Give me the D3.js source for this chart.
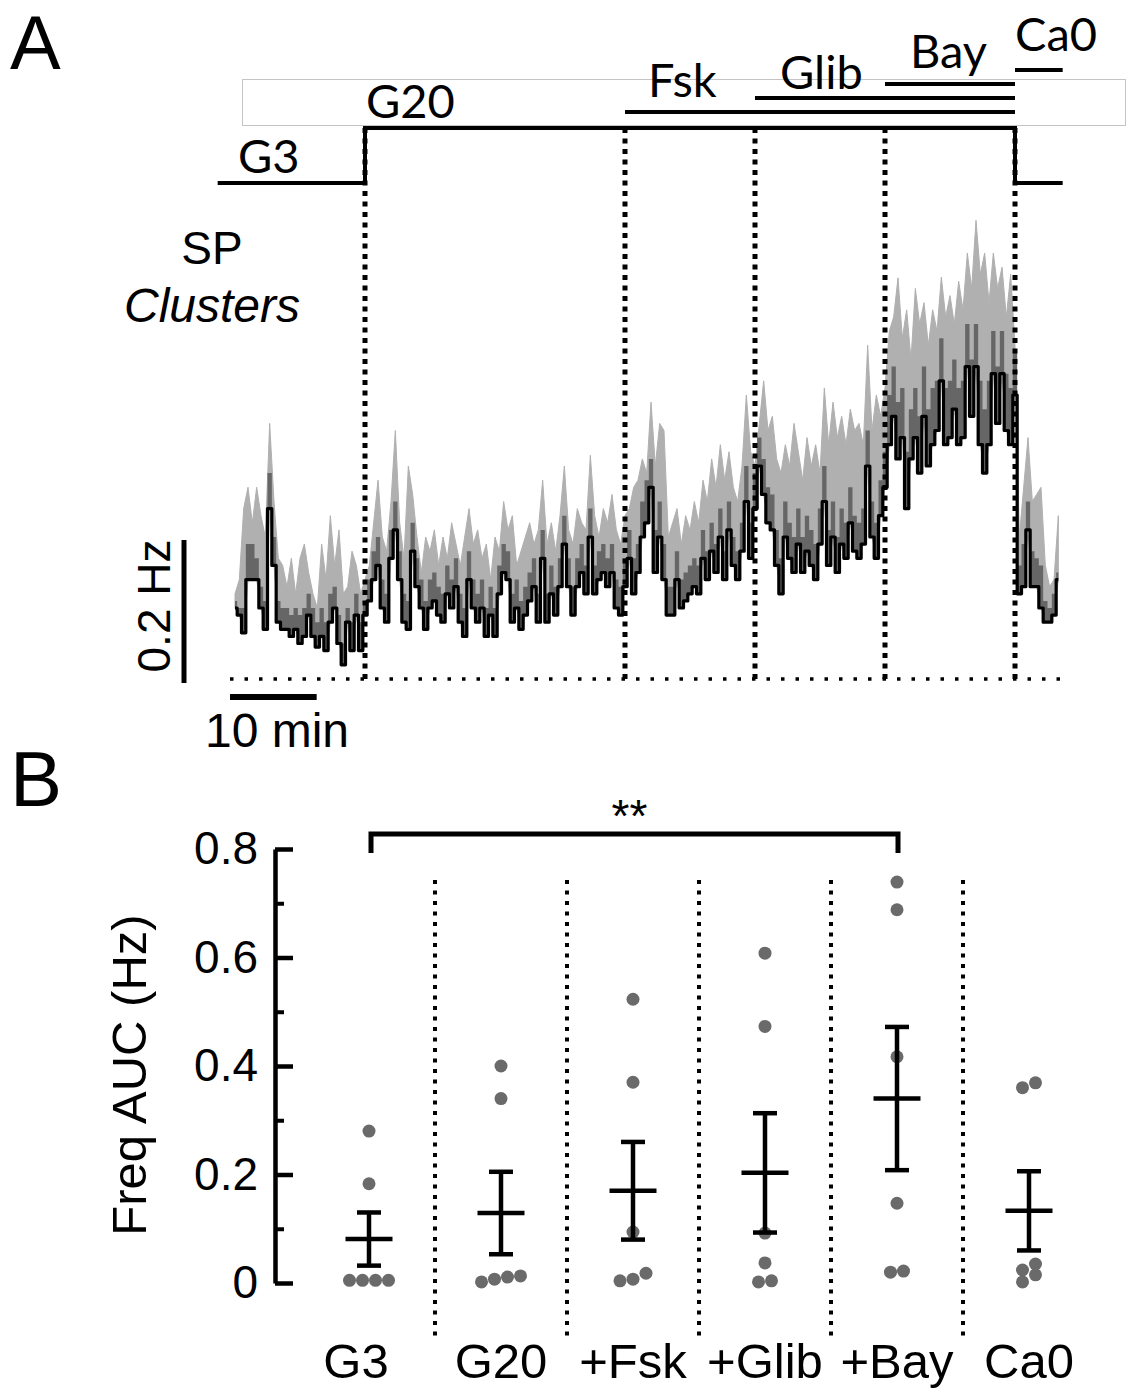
<!DOCTYPE html>
<html>
<head>
<meta charset="utf-8">
<script src="https://cdn.jsdelivr.net/npm/d3@7"></script>
<style>
body { margin: 0; background: #fff; }
svg { display: block; background: #fff; }
text { font-family: "Liberation Sans", Arial, sans-serif; fill: #000; }
.proto { font-family: Lato, "Open Sans", sans-serif; font-size: 47px; }
</style>
</head>
<body>
<svg id="fig" width="1127" height="1392"></svg>
<script>

// ---- panel A : protocol ----
var protocolLabels = ["G3", "G20", "Fsk", "Glib", "Bay", "Ca0"];
var protocolStart = [-2, 15, 45, 60, 75, 90];
var protocolEnd = [15, 90, 90, 90, 90, 95.5];
var stageBoundaries = [15, 45, 60, 75, 90];

// ---- panel A : SP cluster frequency trace (Hz), one sample every 0.5 min ----
var sampleStep = 0.5;
var meanTrace = [
	0.10,0.09,0.065,0.14,0.14,0.14,0.10,0.07,0.24,0.16,
	0.08,0.07,0.07,0.06,0.07,0.05,0.06,0.09,0.06,0.045,
	0.06,0.04,0.08,0.10,0.05,0.02,0.08,0.04,0.09,0.04,
	0.09,
	0.11,0.14,0.16,0.10,0.08,0.17,0.21,0.14,0.08,0.07,
	0.18,0.13,0.10,0.07,0.10,0.11,0.09,0.08,0.12,0.10,
	0.13,0.08,0.06,0.14,0.10,0.08,0.10,0.06,0.09,0.06,
	0.12,0.15,0.14,0.08,0.10,0.07,0.09,0.11,0.13,0.08,
	0.17,0.08,0.12,0.09,0.13,0.19,0.13,0.09,0.13,0.15,
	0.12,0.20,0.12,0.14,0.15,0.13,0.15,0.10,0.09,0.13,
	0.17,0.12,0.15,0.20,0.22,0.27,0.15,0.20,0.14,0.09,
	0.09,0.14,0.10,0.11,0.12,0.13,0.12,0.17,0.14,0.18,
	0.15,0.20,0.14,0.21,0.16,0.14,0.18,0.25,0.17,0.24,
	0.30,0.26,0.22,0.21,0.16,0.12,0.20,0.17,0.15,0.19,
	0.15,0.18,0.16,0.14,0.19,0.25,0.16,0.20,0.15,0.19,
	0.17,0.22,0.18,0.17,0.19,0.30,0.20,0.17,0.23,0.27,
	0.33,0.37,0.31,0.34,0.24,0.31,0.34,0.29,0.37,0.30,
	0.33,0.35,0.42,0.33,0.34,0.38,0.33,0.34,0.44,0.37,
	0.44,0.33,0.29,0.33,0.43,0.36,0.43,0.35,0.33,0.40,
	0.12,0.13,0.21,0.13,0.13,0.10,0.08,0.08,0.09,0.14
];
var semTrace = [
	0.11,0.10,0.10,0.19,0.19,0.17,0.13,0.11,0.29,0.20,
	0.11,0.10,0.10,0.09,0.10,0.09,0.10,0.12,0.10,0.08,
	0.10,0.08,0.12,0.13,0.09,0.05,0.10,0.08,0.12,0.08,
	0.11,
	0.14,0.18,0.20,0.14,0.12,0.21,0.25,0.18,0.12,0.11,
	0.22,0.17,0.14,0.11,0.14,0.15,0.13,0.12,0.16,0.14,
	0.17,0.12,0.10,0.18,0.14,0.12,0.14,0.10,0.13,0.10,
	0.16,0.19,0.18,0.12,0.14,0.11,0.13,0.15,0.17,0.12,
	0.21,0.12,0.16,0.13,0.17,0.23,0.17,0.13,0.17,0.19,
	0.16,0.24,0.16,0.18,0.19,0.17,0.19,0.14,0.13,0.17,
	0.21,0.17,0.19,0.25,0.28,0.31,0.21,0.25,0.19,0.13,
	0.13,0.18,0.14,0.15,0.16,0.17,0.16,0.21,0.18,0.22,
	0.19,0.24,0.18,0.25,0.20,0.18,0.22,0.30,0.22,0.29,
	0.34,0.31,0.27,0.26,0.21,0.17,0.25,0.22,0.20,0.24,
	0.20,0.23,0.21,0.19,0.24,0.30,0.21,0.25,0.20,0.24,
	0.22,0.27,0.23,0.22,0.24,0.35,0.25,0.22,0.28,0.32,
	0.40,0.44,0.39,0.41,0.32,0.38,0.41,0.37,0.44,0.38,
	0.41,0.42,0.48,0.41,0.42,0.45,0.41,0.42,0.50,0.45,
	0.50,0.42,0.38,0.42,0.49,0.44,0.49,0.43,0.41,0.46,
	0.16,0.19,0.25,0.18,0.17,0.16,0.11,0.10,0.12,0.15
];
var upperTrace = [
	0.12,0.14,0.24,0.27,0.22,0.27,0.23,0.20,0.36,0.25,
	0.17,0.16,0.13,0.17,0.12,0.17,0.19,0.15,0.12,0.10,
	0.19,0.14,0.23,0.16,0.21,0.12,0.13,0.18,0.16,0.12,
	0.14,
	0.16,0.22,0.28,0.20,0.18,0.25,0.35,0.22,0.17,0.30,
	0.26,0.20,0.15,0.20,0.18,0.21,0.16,0.20,0.17,0.22,
	0.19,0.16,0.20,0.24,0.19,0.21,0.17,0.19,0.14,0.20,
	0.18,0.25,0.21,0.23,0.16,0.18,0.20,0.22,0.19,0.21,
	0.28,0.19,0.22,0.18,0.23,0.30,0.21,0.19,0.24,0.22,
	0.21,0.315,0.23,0.20,0.24,0.22,0.26,0.21,0.19,0.23,
	0.24,0.27,0.28,0.31,0.29,0.39,0.30,0.36,0.35,0.20,
	0.22,0.24,0.19,0.23,0.21,0.25,0.22,0.28,0.25,0.31,
	0.27,0.33,0.28,0.32,0.27,0.25,0.30,0.40,0.32,0.30,
	0.36,0.42,0.35,0.37,0.31,0.29,0.33,0.30,0.36,0.32,
	0.28,0.34,0.30,0.33,0.29,0.41,0.33,0.39,0.34,0.37,
	0.33,0.38,0.35,0.36,0.33,0.47,0.35,0.40,0.37,0.41,
	0.49,0.51,0.565,0.48,0.52,0.45,0.55,0.50,0.53,0.47,
	0.52,0.49,0.566,0.51,0.54,0.50,0.56,0.52,0.60,0.55,
	0.646,0.57,0.60,0.53,0.60,0.55,0.58,0.51,0.57,0.47,
	0.20,0.27,0.34,0.25,0.26,0.27,0.16,0.13,0.14,0.23
];

// ---- panel B : Freq AUC ----
var categories = ["G3", "G20", "+Fsk", "+Glib", "+Bay", "Ca0"];
var aucPoints = [
	[0.28, 0.183, 0.005, 0.005, 0.005, 0.005],
	[0.40, 0.34, 0.011, 0.002, 0.007, 0.013],
	[0.523, 0.37, 0.094, 0.018, 0.004, 0.007],
	[0.608, 0.473, 0.092, 0.037, 0.002, 0.004],
	[0.739, 0.688, 0.417, 0.147, 0.02, 0.022],
	[0.36, 0.369, 0.024, 0.035, 0.015, 0.002]
];
var aucMean = [0.081, 0.129, 0.17, 0.203, 0.34, 0.133];
var aucSem = [0.049, 0.076, 0.09, 0.11, 0.132, 0.073];
var yTicks = [0, 0.2, 0.4, 0.6, 0.8];
var yMinorTicks = [0.1, 0.3, 0.5, 0.7];
var sigPair = ["G3", "+Bay"];
var sigLabel = "**";

var svg = d3.select("#fig");

var tx = d3.scaleLinear().domain([0, 90]).range([235, 1015]);
var ty = d3.scaleLinear().domain([0, 0.2]).range([679, 537]);

function drawProtocol() {

	var g = svg.append("g");
	var levelLow = 183, levelHigh = 128;
	var barY = { "Fsk": 112, "Glib": 98, "Bay": 84, "Ca0": 70 };

	// leftover frame from the original figure
	g.append("rect")
		.attr("x", 242.5).attr("y", 79.5)
		.attr("width", 883).attr("height", 46)
		.attr("fill", "none")
		.attr("stroke", "#c4c4c4")
		.attr("stroke-width", 1);

	// glucose step
	var step = [
		[tx(protocolStart[0]), levelLow], [tx(protocolEnd[0]), levelLow],
		[tx(protocolStart[1]), levelHigh], [tx(protocolEnd[1]), levelHigh],
		[tx(protocolEnd[1]), levelLow], [tx(protocolEnd[5]), levelLow]
	];
	g.append("path")
		.attr("d", d3.line()(step))
		.attr("fill", "none")
		.attr("stroke", "#000")
		.attr("stroke-width", 4);

	// drug bars
	for (var i = 2; i < protocolLabels.length; i++) {
		g.append("line")
			.attr("x1", tx(protocolStart[i])).attr("x2", tx(protocolEnd[i]))
			.attr("y1", barY[protocolLabels[i]]).attr("y2", barY[protocolLabels[i]])
			.attr("stroke", "#000")
			.attr("stroke-width", 4);
	}

	var labelX = [238, 366, 648, 780, 910, 1015];
	var labelY = [173, 118, 97, 89, 68, 51];
	g.selectAll("text.proto")
		.data(protocolLabels)
		.enter().append("text")
		.attr("class", "proto")
		.attr("x", function(d, i) { return labelX[i]; })
		.attr("y", function(d, i) { return labelY[i]; })
		.text(function(d) { return d; });
}

function drawTrace() {

	var g = svg.append("g");
	var idx = d3.range(meanTrace.length);
	var t = function(i) { return tx(i * sampleStep); };

	g.append("path")
		.attr("d", d3.area()
			.x(t)
			.y0(function(i) { return ty(meanTrace[i]); })
			.y1(function(i) { return ty(upperTrace[i]); })(idx))
		.attr("fill", "#b0b0b0")
		.attr("stroke", "#b0b0b0")
		.attr("stroke-width", 1);

	g.append("path")
		.attr("d", d3.area()
			.curve(d3.curveStep)
			.x(t)
			.y0(function(i) { return ty(meanTrace[i]); })
			.y1(function(i) { return ty(semTrace[i]); })(idx))
		.attr("fill", "#666");

	g.append("path")
		.attr("d", d3.line()
			.curve(d3.curveStep)
			.x(t)
			.y(function(i) { return ty(meanTrace[i]); })(idx))
		.attr("fill", "none")
		.attr("stroke", "#000")
		.attr("stroke-width", 3.2)
		.attr("stroke-linejoin", "round");

	// stage boundaries
	g.selectAll("line.stage")
		.data(stageBoundaries)
		.enter().append("line")
		.attr("x1", function(d) { return tx(d); })
		.attr("x2", function(d) { return tx(d); })
		.attr("y1", 128)
		.attr("y2", ty(0))
		.attr("stroke", "#000")
		.attr("stroke-width", 5)
		.attr("stroke-dasharray", "5,5.5");

	// zero line
	g.append("line")
		.attr("x1", 230).attr("x2", 1062)
		.attr("y1", ty(0)).attr("y2", ty(0))
		.attr("stroke", "#000")
		.attr("stroke-width", 3.5)
		.attr("stroke-dasharray", "3.5,11");

	// scale bars
	g.append("line")
		.attr("x1", 184).attr("x2", 184)
		.attr("y1", ty(0) + 4).attr("y2", ty(0.2) + 3)
		.attr("stroke", "#000").attr("stroke-width", 5);
	g.append("text")
		.attr("transform", "translate(170,606) rotate(-90)")
		.attr("text-anchor", "middle")
		.attr("font-size", 46)
		.text("0.2 Hz");

	g.append("line")
		.attr("x1", 230).attr("x2", 230 + tx(10) - tx(0))
		.attr("y1", 697).attr("y2", 697)
		.attr("stroke", "#000").attr("stroke-width", 6);
	g.append("text")
		.attr("x", 277).attr("y", 747)
		.attr("text-anchor", "middle")
		.attr("font-size", 48)
		.text("10 min");

	g.append("text")
		.attr("x", 212).attr("y", 264)
		.attr("text-anchor", "middle")
		.attr("font-size", 46)
		.text("SP");
	g.append("text")
		.attr("x", 212).attr("y", 322)
		.attr("text-anchor", "middle")
		.attr("font-size", 48)
		.attr("font-style", "italic")
		.text("Clusters");
}

function drawPanelB() {

	var g = svg.append("g");
	var bx = d3.scalePoint().domain(categories).range([369, 1029]);
	var by = d3.scaleLinear().domain([0, 0.8]).range([1283, 849]);

	var yAxis = d3.axisLeft(by)
		.tickValues(yTicks)
		.tickSize(-18)
		.tickSizeOuter(0)
		.tickPadding(17)
		.tickFormat(function(d) { return d === 0 ? "0" : d3.format(".1f")(d); });

	var ax = g.append("g")
		.attr("transform", "translate(275,0)")
		.call(yAxis);
	ax.select(".domain").attr("stroke-width", 4.5);
	ax.selectAll(".tick line").attr("stroke-width", 4.5);
	ax.selectAll(".tick text")
		.attr("font-size", 46)
		.attr("font-family", "Liberation Sans, Arial, sans-serif")
		.attr("fill", "#000");

	var minor = g.append("g")
		.attr("transform", "translate(275,0)")
		.call(d3.axisLeft(by).tickValues(yMinorTicks).tickSize(-9).tickFormat(""));
	minor.select(".domain").remove();
	minor.selectAll(".tick line").attr("stroke-width", 4);

	g.append("text")
		.attr("transform", "translate(146,1075) rotate(-90)")
		.attr("text-anchor", "middle")
		.attr("font-size", 49)
		.text("Freq AUC (Hz)");

	// dotted separators
	var half = bx.step() / 2;
	g.selectAll("line.sep")
		.data(categories.slice(0, -1))
		.enter().append("line")
		.attr("x1", function(d) { return bx(d) + half; })
		.attr("x2", function(d) { return bx(d) + half; })
		.attr("y1", 880).attr("y2", 1338)
		.attr("stroke", "#000")
		.attr("stroke-width", 4)
		.attr("stroke-dasharray", "4,6.5");

	// points: near-equal values spread side by side
	var spacing = 13;
	categories.forEach(function(c, ci) {
		var vals = aucPoints[ci].slice().sort(d3.ascending);
		var rows = [];
		vals.forEach(function(v) {
			var last = rows[rows.length - 1];
			if (last && v - last[0] < 0.02) last.push(v);
			else rows.push([v]);
		});
		rows.forEach(function(row) {
			row.forEach(function(v, k) {
				g.append("circle")
					.attr("cx", bx(c) + (k - (row.length - 1) / 2) * spacing)
					.attr("cy", by(v))
					.attr("r", 6.5)
					.attr("fill", "#6a6a6a");
			});
		});
	});

	// mean +/- sem
	categories.forEach(function(c, ci) {
		var x = bx(c), m = aucMean[ci], s = aucSem[ci];
		var eb = g.append("g").attr("stroke", "#000").attr("stroke-width", 4.5);
		eb.append("line").attr("x1", x).attr("x2", x).attr("y1", by(m - s)).attr("y2", by(m + s));
		eb.append("line").attr("x1", x - 12).attr("x2", x + 12).attr("y1", by(m + s)).attr("y2", by(m + s));
		eb.append("line").attr("x1", x - 12).attr("x2", x + 12).attr("y1", by(m - s)).attr("y2", by(m - s));
		eb.append("line").attr("x1", x - 23.5).attr("x2", x + 23.5).attr("y1", by(m)).attr("y2", by(m));
	});

	// significance bracket
	var x0 = bx(sigPair[0]) + 2, x1 = bx(sigPair[1]) + 1;
	g.append("path")
		.attr("d", "M" + x0 + ",853V834H" + x1 + "V853")
		.attr("fill", "none")
		.attr("stroke", "#000")
		.attr("stroke-width", 5);
	g.append("text")
		.attr("x", (x0 + x1) / 2 - 5).attr("y", 832)
		.attr("text-anchor", "middle")
		.attr("font-size", 46)
		.text(sigLabel);

	g.selectAll("text.cat")
		.data(categories)
		.enter().append("text")
		.attr("x", function(d, i) { return bx(d) - (i === 0 ? 13 : 0); })
		.attr("y", 1378)
		.attr("text-anchor", "middle")
		.attr("font-size", 49)
		.text(function(d) { return d; });
}

svg.append("text").attr("x", 10).attr("y", 69).attr("font-size", 76).text("A");
svg.append("text").attr("x", 10).attr("y", 806).attr("font-size", 78).text("B");

drawProtocol();
drawTrace();
drawPanelB();

</script>
</body>
</html>
